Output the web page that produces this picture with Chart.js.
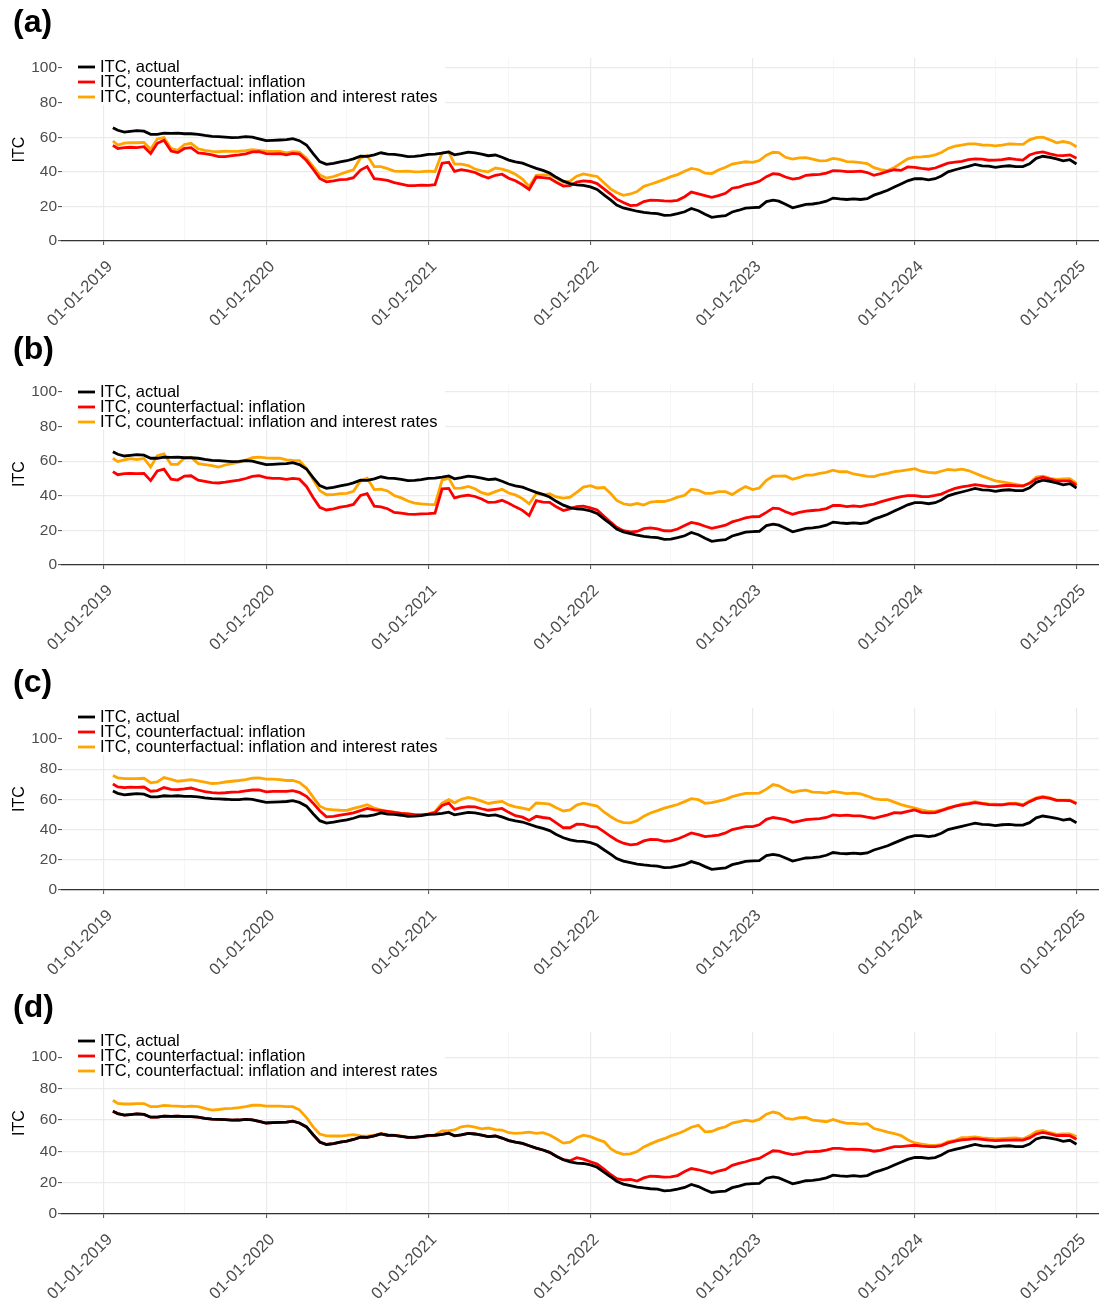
<!DOCTYPE html>
<html>
<head>
<meta charset="utf-8">
<script src="https://cdn.jsdelivr.net/npm/chart.js@4.4.0/dist/chart.umd.min.js"></script>
<style>
  body { margin: 0; background: #fff; }
  #wrap { position: relative; width: 1099px; height: 1301px; }
  #wrap canvas { position: absolute; left: 0; }
</style>
</head>
<body>
<div id="wrap">
  <canvas id="panel-a" width="1099" height="325" style="top:0px"></canvas>
  <canvas id="panel-b" width="1099" height="325" style="top:325px"></canvas>
  <canvas id="panel-c" width="1099" height="325" style="top:650px"></canvas>
  <canvas id="panel-d" width="1099" height="326" style="top:975px"></canvas>
</div>
<script>
// dates of the readings (about twice a month)
const dates = [
  "2019-01-21","2019-02-01","2019-02-16","2019-03-01","2019-03-16","2019-04-01","2019-04-16","2019-05-01","2019-05-16","2019-06-01","2019-06-16","2019-07-01","2019-07-16","2019-08-01","2019-08-16","2019-09-01","2019-09-16","2019-10-01","2019-10-16","2019-11-01","2019-11-16","2019-12-01","2019-12-16",
  "2020-01-01","2020-01-16","2020-02-01","2020-02-16","2020-03-01","2020-03-16","2020-04-01","2020-04-16","2020-05-01","2020-05-16","2020-06-01","2020-06-16","2020-07-01","2020-07-16","2020-08-01","2020-08-16","2020-09-01","2020-09-16","2020-10-01","2020-10-16","2020-11-01","2020-11-16","2020-12-01","2020-12-16",
  "2021-01-01","2021-01-16","2021-02-01","2021-02-16","2021-03-01","2021-03-16","2021-04-01","2021-04-16","2021-05-01","2021-05-16","2021-06-01","2021-06-16","2021-07-01","2021-07-16","2021-08-01","2021-08-16","2021-09-01","2021-09-16","2021-10-01","2021-10-16","2021-11-01","2021-11-16","2021-12-01","2021-12-16",
  "2022-01-01","2022-01-16","2022-02-01","2022-02-16","2022-03-01","2022-03-16","2022-04-01","2022-04-16","2022-05-01","2022-05-16","2022-06-01","2022-06-16","2022-07-01","2022-07-16","2022-08-01","2022-08-16","2022-09-01","2022-09-16","2022-10-01","2022-10-16","2022-11-01","2022-11-16","2022-12-01","2022-12-16",
  "2023-01-01","2023-01-16","2023-02-01","2023-02-16","2023-03-01","2023-03-16","2023-04-01","2023-04-16","2023-05-01","2023-05-16","2023-06-01","2023-06-16","2023-07-01","2023-07-16","2023-08-01","2023-08-16","2023-09-01","2023-09-16","2023-10-01","2023-10-16","2023-11-01","2023-11-16","2023-12-01","2023-12-16",
  "2024-01-01","2024-01-16","2024-02-01","2024-02-16","2024-03-01","2024-03-16","2024-04-01","2024-04-16","2024-05-01","2024-05-16","2024-06-01","2024-06-16","2024-07-01","2024-07-16","2024-08-01","2024-08-16","2024-09-01","2024-09-16","2024-10-01","2024-10-16","2024-11-01","2024-11-16","2024-12-01","2024-12-16","2024-12-31"
];

// ITC, actual (same in every panel)
const itcActual = [
  65.5,64,63,63.4,63.8,63.5,61.7,61.7,62.4,62.2,62.4,62,62,61.7,61,60.5,60.3,60.1,59.8,59.9,60.3,60,59,
  58,58.2,58.4,58.6,59.2,58,55.5,50.5,45.9,44.3,44.9,45.8,46.4,47.5,49,48.9,49.8,51,50.2,50.1,49.5,48.8,48.9,49.3,
  50.1,50.2,50.8,51.5,49.8,50.5,51.4,51,50.2,49.3,49.7,48.4,46.8,45.8,45,43.5,42,40.8,39.3,36.8,34.6,33.2,32.4,32.2,
  31.3,29.8,26.5,23.6,20.8,19.1,18.1,17.2,16.6,16.1,15.8,14.8,15,15.8,16.9,18.8,17.5,15.5,13.7,14.2,14.6,16.8,17.8,19,
  19.3,19.5,22.8,23.6,23,21.2,19.2,20.2,21.2,21.4,22,23,24.8,24.3,24,24.4,24,24.5,26.5,27.8,29.3,31.2,33,34.8,
  36,36,35.4,36,37.6,40,41.2,42.2,43.2,44.3,43.4,43.3,42.6,43.2,43.5,43,43,44.6,47.8,49,48.3,47.5,46.3,47,44.5
];

// panel (a)
const inflationA = [
  55.3,53.5,54,54.2,54,54.5,50.6,56.5,58.3,52,51.1,53.5,54,51,50.5,49.8,48.8,48.8,49.3,49.8,50.4,51.5,51.6,
  50.5,50.4,50.5,49.8,50.6,50.3,46.5,41.5,36.2,34.2,34.8,35.5,35.6,36.6,41,43,36,35.6,35,33.8,32.9,32,32,32.3,
  32.2,32.6,45,45.5,40.2,41.2,40.6,39.6,37.8,36.4,38,38.6,36.3,34.8,32.5,29.8,37,36.6,36.2,34,31.8,32,34,34.8,
  34.4,33.2,30,27,24.2,22.2,20.5,20.8,22.8,23.6,23.5,23.2,23.1,23.5,25.6,28.3,27.3,26.2,25.2,26.2,27.6,30.5,31.2,32.5,
  33.3,34.5,37.2,38.9,38.6,37,35.8,36.4,38,38.3,38.5,39.3,40.6,40.5,40.1,40.1,40.4,39.6,38,39,40.2,41.2,40.8,42.8,
  42.6,42,41.5,42.2,43.6,45,45.6,46,47,47.5,47.3,46.7,46.8,47.1,47.7,47.2,46.8,49.7,51,51.5,50.4,49.5,49.4,49.8,47.8
];
const inflRatesA = [
  57.8,55.5,56.6,56.8,56.8,57,53,59,59.8,53.5,52.4,55.8,56.5,53.3,52.4,51.8,51.6,52,51.8,51.9,52.3,52.8,52.4,
  52,51.8,51.8,51,51.6,51.4,47.8,43,38.2,36.4,37.2,38.6,40,41.2,48,49.4,43,43,41.8,40.4,40.2,40.4,40,40.1,
  40.4,40.2,51,51.4,44.5,44.4,43.6,41.6,40.6,40,42.2,41.5,40.4,38.6,35.8,31.5,38,38.2,38.2,36.5,34,34.6,37.5,38.8,
  38,37.3,33.5,30,28,26.4,27.2,28.6,31.6,32.8,34.2,35.6,37.2,38.4,40.3,42,41.2,39.2,39,41.1,42.6,44.5,45.2,45.8,
  45.5,46.5,49.6,51.3,51.1,48.4,47.3,48,48.2,47.3,46.3,46.5,47.8,47.2,45.9,45.8,45.3,44.8,42.4,41.3,40.7,42.5,45,47.5,
  48.5,48.6,49,49.8,51.2,53.5,54.8,55.5,56.2,56.1,55.5,55.4,55,55.4,56.2,56,55.9,58.5,59.8,60,58.5,56.8,57.5,56.8,54.5
];

// panel (b)
const inflationB = [
  54,52.2,52.8,53,52.8,53,48.8,54.4,55.4,49.6,49.1,51.4,51.6,49,48.4,47.6,47.4,47.9,48.5,49,50,51.2,51.6,
  50.5,50.1,50.1,49.5,50.1,49.6,45.4,39,33.3,31.8,32.5,33.4,34,35,40.2,41.2,34,33.6,32.5,30.4,30,29.4,29.3,29.5,
  29.7,30,44,44.3,38.8,39.8,40.4,39.6,38.2,36.2,36.4,37.4,35.7,33.6,31.6,28.6,37.2,36.4,36.2,33.6,31.5,32.4,33.7,34,
  33,31.8,28,24.6,21.8,19.8,19.2,19.4,21,21.5,20.9,19.8,19.7,20.8,22.8,24.6,23.8,22.4,21.2,22.1,23,24.9,26,27.2,
  27.9,28,30.4,32.9,32.6,30.8,29.3,30.4,31.2,31.5,31.8,32.6,34.4,34.4,33.7,34.2,33.7,34.6,35.2,36.5,37.6,38.6,39.5,40.1,
  40.1,39.6,39.5,40.2,41,42.8,44.3,45.2,45.7,46.4,45.9,45.3,45.3,45.8,46.1,45.8,45.7,47.2,49.7,50.8,49.6,48.6,48.6,48.6,46.2
];
const inflRatesB = [
  61.7,59.8,60.8,61.5,61,61.6,56.6,63.2,64.2,58.2,58.2,61.8,62.3,58.6,58,57.4,56.6,57.8,58.6,59.4,60.6,62,62.3,
  61.9,61.7,61.8,60.8,60.5,60.3,55.8,49.4,43,40.6,40.7,41.2,41.4,42.6,48.6,50.2,43.6,43.8,42.8,40.2,38.8,37,35.8,35.3,
  35,34.9,49,50.2,44.3,44.4,45.4,44.1,41.8,40.8,42.4,43.8,41.6,40.5,38.4,35.4,41.2,40.5,41.2,39.3,38.7,39.2,42,45,
  45.9,44.5,44.8,41.2,37.3,35.4,34.7,35.6,34.6,36.4,36.8,36.7,37.7,39.2,40.3,43.8,43.2,41.4,41.4,42.4,42.4,40.7,43.2,45.3,
  43.6,44.5,49,51.3,51.4,51.5,49.5,50.6,52,52,53,53.5,54.8,53.9,53.9,52.6,52,51.2,51.1,52.3,53,54,54.4,55,
  55.7,54.2,53.6,53.2,54.2,55.2,54.8,55.4,54.6,53,51.4,50,48.6,48,47.3,46.6,45.7,47.4,50.8,51.4,50.1,49.5,49.8,49.9,47.2
];

// panel (c)
const inflationC = [
  70.2,68.2,67.8,68.1,68,68.2,65.4,65.8,67.8,66.6,66.4,66.9,67.5,66.2,65.1,64.5,64.2,64.4,64.8,65,65.6,66.2,66.2,
  65,65.3,65.3,65.3,65.8,64.6,62,57.5,52.5,48.4,48.8,49.6,50.3,51.1,52.6,54,53,52.6,52.1,51.4,50.8,50.4,49.9,49.8,
  50.3,51.2,56,57.5,53.4,54.6,55.2,55,53.8,52.8,53.4,54,51.4,49.2,48.2,46,48.8,48,47.4,44.5,41.2,41.2,43.6,43.4,
  42.2,41.6,38.5,35.4,33,31,29.9,30.4,32.5,33.5,33.3,32.2,32.5,33.8,35.8,37.8,36.7,35.4,35.8,36.4,37.8,40,40.9,42,
  42,43.2,46.8,48,47.4,46.6,44.8,45.6,46.6,46.9,47.2,48,49.7,49.2,49.6,49.1,49.1,48.2,47.5,48.6,49.8,51.2,51,52,
  53,51.4,51,51.2,52.5,54,55.5,56.4,57.1,57.8,57.2,56.5,56.4,56.4,57,57,56,58.5,60.5,61.5,60.6,59.3,59.3,59.2,57.1
];
const inflRatesC = [
  75.8,74.3,73.7,73.8,73.7,74,71,71.6,74.4,73.2,72,72.5,73.1,72.2,71.5,70.5,70.8,71.5,72,72.5,73.1,74,74.2,
  73.4,73.4,73.1,72.5,72.5,71.2,67.5,61.5,55.5,53.5,53.1,52.8,52.7,54,55.2,56.5,54.3,53.1,52.1,51.5,50.8,50.4,49.9,49.8,
  50.4,51.8,57.5,59.8,57.7,60,61.3,60.3,58.8,57.3,58.1,58.7,56.3,55,54.2,53.2,57.6,57.3,56.8,54.5,52.3,53,56.2,57.5,
  56.6,55.6,51.5,48.5,46.2,44.6,44.5,45.9,48.8,51,52.6,54.2,55.4,56.6,58.5,60.5,59.8,57.4,57.8,58.8,60,61.8,63,64,
  64,64.2,66.8,69.8,69,66.5,64.7,65.6,66.1,64.8,64.7,64.2,65.3,64.7,63.8,64.1,63.6,62.2,60.5,59.8,59.8,58.2,56.5,55.4,
  54.2,53,52.1,52,53,54.6,55.4,57.1,57.5,58.4,57.5,57,56.8,56.5,57.3,57.5,56.5,59,61,62,61,59.5,59.5,59.5,57.6
];

// panel (d)
const inflationD = [
  65.5,64,63,63.4,63.8,63.5,61.7,61.7,62.4,62.2,62.4,62,62,61.7,61,60.5,60.3,60.1,59.8,59.9,60.3,60,59,
  58,58.2,58.4,58.6,59.2,58,55.5,50.5,45.9,44.3,44.9,45.8,46.4,47.5,49,48.9,49.8,51,50.2,50.1,49.5,48.8,48.9,49.3,
  50.1,50.2,50.8,51.5,49.8,50.5,51.4,51,50.2,49.3,49.7,48.4,46.8,45.8,45,43.5,42,40.8,39.3,36.8,34.6,34,35.9,35,
  33.3,31.8,28.5,25,22.5,21.8,22,21,23,24.1,23.9,23.5,23.7,24.5,27.1,29,28.2,27.1,26,27.4,28.4,31,32.3,33.3,
  34.6,35.4,38,40.3,40.1,38.8,37.8,38.4,39.6,39.7,40,40.7,41.8,41.8,41.2,41.3,41.2,40.8,40,40.5,41.8,42.9,43,43.4,
  43.8,43.3,42.9,42.9,43.6,45.3,46.5,47.3,47.6,48,47.5,47.1,46.8,47,47.1,47.3,47.1,48.5,51,52,51.1,50,50.1,49.9,47.6
];
const inflRatesD = [
  72.5,70.5,70.1,70.1,70.4,70.4,68.4,68.4,69.2,68.9,68.8,68.4,68.8,68.4,67.3,66.2,66.6,67.1,67.3,67.8,68.5,69.3,69.4,
  68.8,68.8,68.8,68.5,68.4,66.4,61.5,55.5,51,49.8,49.7,49.7,50.1,50.6,49.8,49.6,50.2,51.4,50.6,50.3,49.7,49,49.1,49.5,
  49.6,50.5,53,53.2,53.6,55.6,56.2,55.3,54.3,54.8,53.8,53.5,51.8,51.4,51.7,52.2,51.4,51.8,50.4,48,45.2,45.8,48.6,50.2,
  49.3,47.6,46,41.5,39.4,38,38.3,39.8,42.8,44.7,46.6,48,49.8,51.2,53.1,55.3,56.5,52.4,52.6,54.4,55.6,58,58.8,59.8,
  59,60.3,63.6,65,64.2,61,60.3,61.4,61.5,59.9,59.4,58.8,60.3,58.9,57.7,57.7,57.3,57.6,54.5,53.5,52.2,51.3,50,47.3,
  45.3,44.6,43.9,43.8,44.2,46.2,47,48.6,48.8,49.2,48.5,48.2,47.8,48,48.3,48.5,47.8,49.8,52.6,53.2,51.8,50.8,51,51,49.3
];

// x axis breaks and labels
const tickDates = ["2019-01-01","2019-07-01","2020-01-01","2020-07-01","2021-01-01","2021-07-01","2022-01-01","2022-07-01","2023-01-01","2023-07-01","2024-01-01","2024-07-01","2025-01-01"];
const tickLabels = ["01-01-2019","","01-01-2020","","01-01-2021","","01-01-2022","","01-01-2023","","01-01-2024","","01-01-2025"];
const yTicks = [0,10,20,30,40,50,60,70,80,90,100];
const seriesNames = ["ITC, actual", "ITC, counterfactual: inflation", "ITC, counterfactual: inflation and interest rates"];
const seriesColors = ["#000000", "#ff0000", "#ffa500"];

function toYear(s) {
    const [y, m, d] = s.split('-').map(Number);
    const start = Date.UTC(y, 0, 1);
    const end = Date.UTC(y + 1, 0, 1);
    return y + (Date.UTC(y, m - 1, d) - start) / (end - start);
}

const xVals = dates.map(toYear);
const tickVals = tickDates.map(toYear);
const FONT = '"Liberation Sans", Arial, Helvetica, sans-serif';

const panels = [
    { id: 'panel-a', tag: '(a)', infl: inflationA, rates: inflRatesA, yMax: 105.8, tagY: 32, top: 58, bottom: 241 },
    { id: 'panel-b', tag: '(b)', infl: inflationB, rates: inflRatesB, yMax: 105.2, tagY: 34, top: 58, bottom: 240 },
    { id: 'panel-c', tag: '(c)', infl: inflationC, rates: inflRatesC, yMax: 120.5, tagY: 42, top: 58, bottom: 240 },
    { id: 'panel-d', tag: '(d)', infl: inflationD, rates: inflRatesD, yMax: 116, tagY: 42, top: 57, bottom: 239 }
];

// panel tag + legend box drawn on the canvas
const decorPlugin = {
    id: 'decor',
    beforeDatasetsDraw(chart, args, opts) {
        const ctx = chart.ctx;
        const area = chart.chartArea;
        ctx.save();
        ctx.fillStyle = '#ffffff';
        ctx.fillRect(area.left, area.top, 383, 47);
        ctx.restore();
    },
    afterDraw(chart, args, opts) {
        const ctx = chart.ctx;
        const area = chart.chartArea;
        ctx.save();
        ctx.fillStyle = '#000';
        ctx.font = 'bold 32px ' + FONT;
        ctx.textBaseline = 'alphabetic';
        ctx.fillText(opts.tag, 13, opts.tagY);

        ctx.font = '16.5px ' + FONT;
        ctx.textBaseline = 'middle';
        seriesNames.forEach((name, i) => {
            const y = area.top + 9 + i * 15;
            ctx.strokeStyle = seriesColors[i];
            ctx.lineWidth = 2.8;
            ctx.beginPath();
            ctx.moveTo(78, y);
            ctx.lineTo(95, y);
            ctx.stroke();
            ctx.fillStyle = '#000';
            ctx.fillText(name, 100, y + 0.5);
        });
        ctx.restore();
    }
};

function plotarPainel(p) {
    const canvas = document.getElementById(p.id);
    const values = [itcActual, p.infl, p.rates];
    const datasets = values.map((serie, i) => ({
        label: seriesNames[i],
        data: serie.map((v, k) => ({ x: xVals[k], y: v })),
        borderColor: seriesColors[i],
        borderWidth: 2.8,
        pointRadius: 0,
        tension: 0,
        fill: false
    }));

    new Chart(canvas.getContext('2d'), {
        type: 'line',
        data: { datasets: datasets },
        plugins: [decorPlugin],
        options: {
            responsive: false,
            animation: false,
            layout: { padding: { top: p.top, left: 0, right: 0, bottom: canvas.height - p.bottom - 84 } },
            plugins: {
                legend: { display: false },
                tooltip: { enabled: false },
                decor: { tag: p.tag, tagY: p.tagY }
            },
            scales: {
                x: {
                    type: 'linear',
                    min: 2018.741,
                    max: 2025.136,
                    afterBuildTicks: s => { s.ticks = tickVals.map(v => ({ value: v })); },
                    afterFit: s => { s.height = 84; s.paddingLeft = 0; s.paddingRight = 0; },
                    ticks: {
                        autoSkip: false,
                        maxRotation: 45,
                        minRotation: 45,
                        color: '#4d4d4d',
                        padding: 12,
                        labelOffset: 6,
                        font: { family: FONT, size: 16.5 },
                        callback: (v, i) => tickLabels[i]
                    },
                    grid: {
                        color: c => (c.index % 2 === 0 ? '#ebebeb' : '#f5f5f5'),
                        lineWidth: c => (c.index % 2 === 0 ? 1.2 : 0.8),
                        drawTicks: true,
                        tickLength: 4,
                        tickColor: c => (c.index % 2 === 0 ? '#4d4d4d' : 'rgba(0,0,0,0)'),
                        tickWidth: 1
                    },
                    border: { display: true, color: '#333333', width: 1.2 }
                },
                y: {
                    min: 0,
                    max: p.yMax,
                    afterBuildTicks: s => { s.ticks = yTicks.map(v => ({ value: v })); },
                    afterFit: s => { s.width = 62; s.paddingTop = 0; s.paddingBottom = 0; },
                    ticks: {
                        color: '#4d4d4d',
                        padding: 1,
                        font: { family: FONT, size: 15.5 },
                        callback: v => (v % 20 === 0 ? String(v) : '')
                    },
                    grid: {
                        color: c => (c.tick && c.tick.value % 20 === 0 ? '#ebebeb' : '#f5f5f5'),
                        lineWidth: c => (c.tick && c.tick.value % 20 === 0 ? 1.2 : 0.8),
                        drawTicks: true,
                        tickLength: 4,
                        tickColor: c => (c.tick && c.tick.value % 20 === 0 ? '#4d4d4d' : 'rgba(0,0,0,0)'),
                        tickWidth: 1
                    },
                    border: { display: false },
                    title: {
                        display: true,
                        text: 'ITC',
                        color: '#000',
                        font: { family: FONT, size: 16 },
                        padding: { top: 10, bottom: 0 }
                    }
                }
            }
        }
    });
}

panels.forEach(plotarPainel);
</script>
</body>
</html>
